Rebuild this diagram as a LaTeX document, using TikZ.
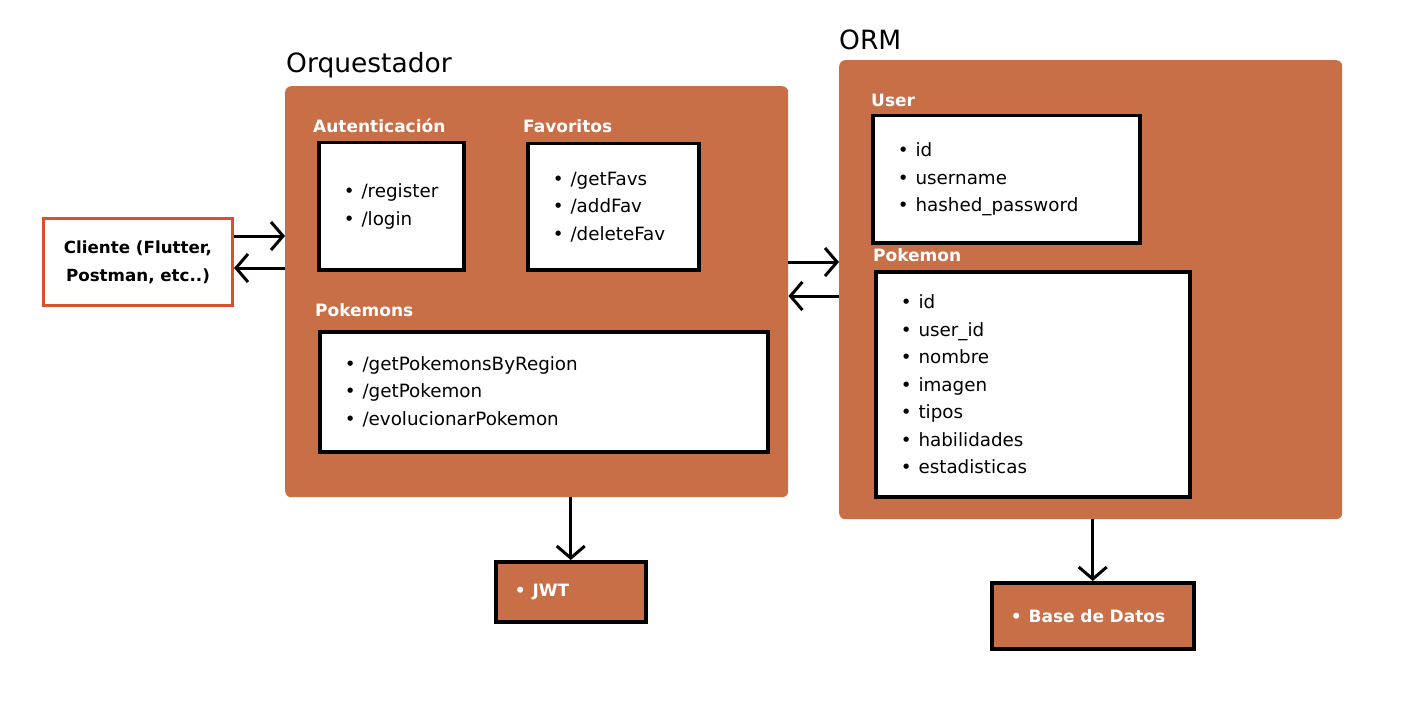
\documentclass[tikz,border=0pt]{standalone}
\usepackage{fontspec}
\setmainfont{DejaVu Sans}
\usetikzlibrary{arrows.meta}

\definecolor{clay}{HTML}{C86F48}
\definecolor{brick}{HTML}{D9512C}

\newcommand{\itm}{\textbullet\hspace{7pt}}

\tikzset{
    panel/.style={rectangle, fill=clay, rounded corners=6pt, anchor=north west},
    card/.style={rectangle, draw=black, line width=3.5pt, fill=white, anchor=north west,
                 inner xsep=25pt, align=left, font=\fontsize{18.3}{27.5}\selectfont},
    tag/.style={anchor=west, text=white, font=\bfseries\fontsize{17}{22}\selectfont, inner sep=0pt},
    title/.style={anchor=west, font=\fontsize{26.5}{34}\selectfont, inner sep=0pt},
    store/.style={rectangle, draw=black, line width=3.5pt, fill=clay, anchor=north west,
                  inner xsep=19pt, align=left, text=white, font=\bfseries\fontsize{17}{22}\selectfont},
    link/.style={draw=black, line width=3pt, -{Straight Barb[length=12pt, width=28pt, line width=3pt]}}
}

\begin{document}
\begin{tikzpicture}[x=1pt, y=-1pt]
\useasboundingbox (0,0) rectangle (1404,722);

% client
\node (cli) at (138,262) [rectangle, draw=brick, line width=3pt, fill=white,
    minimum width=189pt, minimum height=87pt, align=center,
    font=\bfseries\fontsize{16.7}{28}\selectfont] {Cliente (Flutter,\\Postman, etc..)};

% orquestador
\node (orqtext) at (286,65) [title] {Orquestador};
\node (orq) at (285,86) [panel, minimum width=503pt, minimum height=411pt] {};

\node (authtext) at (313,126) [tag] {Autenticación};
\node (auth) at (317,141) [card, text width=95pt, minimum height=127pt] {\itm/register\\ \itm/login};

\node (favtext) at (523,126) [tag] {Favoritos};
\node (fav) at (526,142) [card, text width=121pt, minimum height=126pt] {\itm/getFavs\\ \itm/addFav\\ \itm/deleteFav};

\node (poketext) at (315,310) [tag] {Pokemons};
\node (poke) at (318,330) [card, text width=398pt, minimum height=120pt]
    {\itm/getPokemonsByRegion\\ \itm/getPokemon\\ \itm/evolucionarPokemon};

% orm
\node (ormtext) at (839,40) [title] {ORM};
\node (orm) at (839,60) [panel, minimum width=503pt, minimum height=459pt] {};

\node (usertext) at (871,100) [tag] {User};
\node (user) at (871,114) [card, text width=217pt, minimum height=127pt]
    {\itm id\\ \itm username\\ \itm hashed\_password};

\node (pkmtext) at (873,255) [tag] {Pokemon};
\node (pkm) at (874,270) [card, text width=264pt, minimum height=225pt]
    {\itm id\\ \itm user\_id\\ \itm nombre\\ \itm imagen\\ \itm tipos\\ \itm habilidades\\ \itm estadisticas};

% stores
\node (jwt) at (494,560) [store, text width=112pt, minimum height=60pt] {\itm JWT};
\node (db) at (990,581) [store, text width=164pt, minimum height=66pt] {\itm Base de Datos};

% connectors
\draw[link] (cli.east |- 0,236) -- (orq.west |- 0,236);
\draw[link] (orq.west |- 0,268) -- (cli.east |- 0,268);
\draw[link] (orq.east |- 0,262) -- (orm.west |- 0,262);
\draw[link] (orm.west |- 0,296) -- (orq.east |- 0,296);
\draw[link] (orq.south -| jwt.north) -- (jwt.north);
\draw[link] (orm.south -| db.north) -- (db.north);
\end{tikzpicture}
\end{document}
